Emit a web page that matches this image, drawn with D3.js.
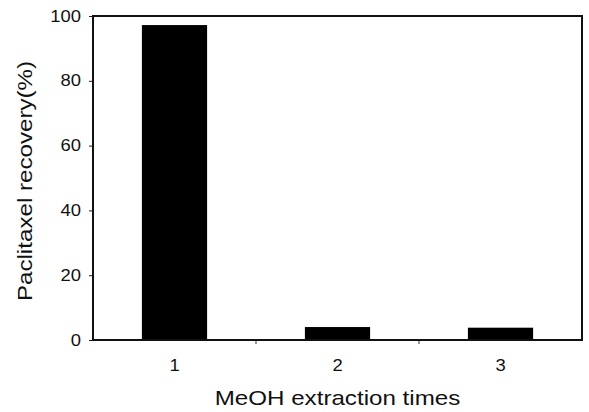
<!DOCTYPE html>
<html><head><meta charset="utf-8">
<script src="https://cdn.jsdelivr.net/npm/d3@7"></script>
<style>body{margin:0;background:#fff}svg{display:block}text{font-family:"Liberation Sans",Arial,sans-serif;fill:#111}</style>
</head><body><svg id="c" width="589" height="412"></svg>
<script>
const categories = ["1","2","3"];
const recovery = [97.2, 4.0, 3.8];
const yTicks = [0,20,40,60,80,100];
const xTitle = "MeOH extraction times";
const yTitle = "Paclitaxel recovery(%)";

const svg = d3.select("#c");
const L=93, R=582, T=16, B=340;
const x = d3.scaleBand().domain(categories).range([L,R]).paddingInner(0.6).paddingOuter(0.3);
const y = d3.scaleLinear().domain([0,100]).range([B,T]);
const stretch = 1.15;
function widen(sel){ sel.each(function(){ const w=this.getComputedTextLength(); d3.select(this).attr("textLength", w*stretch).attr("lengthAdjust","spacingAndGlyphs"); }); }

// bars
svg.append("g").selectAll("rect").data(categories).join("rect")
  .attr("x", d=>x(d)).attr("width", x.bandwidth())
  .attr("y", (d,i)=>y(recovery[i])).attr("height",(d,i)=>B-y(recovery[i]))
  .attr("fill","#000");

// y axis
const ya = svg.append("g").attr("transform",`translate(${L},0)`)
  .call(d3.axisLeft(y).tickValues(yTicks).tickSize(4).tickPadding(8).tickFormat(d3.format("d")));
ya.select(".domain").remove();
ya.selectAll("line").attr("stroke","#222").attr("stroke-width",1);
ya.selectAll("text").attr("font-size",16).attr("fill","#111").attr("font-family",null);
widen(ya.selectAll("text"));

// x axis labels
const xa = svg.append("g").attr("transform",`translate(0,${B})`)
  .call(d3.axisBottom(x).tickSize(0).tickPadding(20));
xa.select(".domain").remove();
xa.selectAll("text").attr("font-size",16).attr("fill","#111").attr("font-family",null);
widen(xa.selectAll("text"));
// x tick marks between categories
const bounds = categories.slice(1).map(c=>x(c)-x.step()*x.paddingInner()/2);
svg.append("g").selectAll("line").data(bounds).join("line")
  .attr("x1",d=>d).attr("x2",d=>d).attr("y1",B).attr("y2",B+4)
  .attr("stroke","#333").attr("stroke-width",1);

// frame
svg.append("rect").attr("x",L).attr("y",T).attr("width",R-L).attr("height",B-T)
  .attr("fill","none").attr("stroke","#111").attr("stroke-width",2);

// titles
const xt = svg.append("text").attr("x",(L+R)/2).attr("y",405).attr("text-anchor","middle")
  .attr("font-size",21).text(xTitle);
widen(xt);
const yt = svg.append("text").attr("transform",`translate(32,${181}) rotate(-90)`).attr("text-anchor","middle")
  .attr("font-size",21).text(yTitle);
widen(yt);
</script></body></html>
